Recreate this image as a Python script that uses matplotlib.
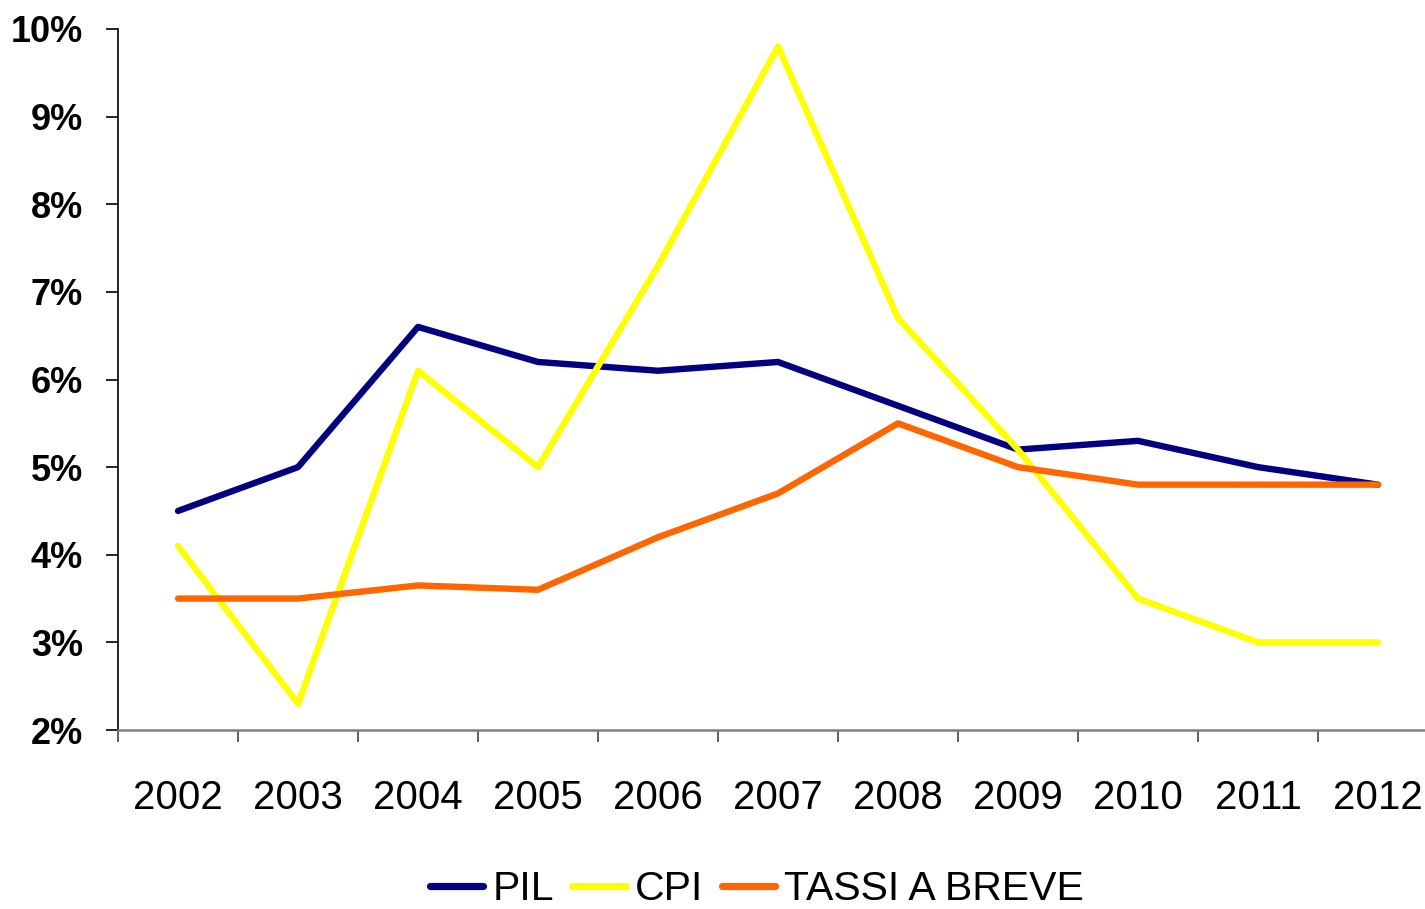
import matplotlib
matplotlib.use("Agg")
import matplotlib.pyplot as plt
from matplotlib.ticker import FixedLocator, FuncFormatter
import numpy as np

years = ["2002", "2003", "2004", "2005", "2006", "2007", "2008", "2009", "2010", "2011", "2012"]
pil = [4.5, 5.0, 6.6, 6.2, 6.1, 6.2, 5.7, 5.2, 5.3, 5.0, 4.8]
cpi = [4.1, 2.3, 6.1, 5.0, 7.3, 9.8, 6.7, 5.2, 3.5, 3.0, 3.0]
tassi = [3.5, 3.5, 3.65, 3.6, 4.2, 4.7, 5.5, 5.0, 4.8, 4.8, 4.8]
series_names = ["PIL", "CPI", "TASSI A BREVE"]
colors = ["#000080", "#FFFF00", "#FF6600"]
yticks = [2, 3, 4, 5, 6, 7, 8, 9, 10]

FONT = ["Liberation Sans", "DejaVu Sans"]

W, H = 1425, 909
fig = plt.figure(figsize=(W / 100, H / 100), dpi=100)
ax = fig.add_axes([118 / W, (H - 730) / H, 1320 / W, 701 / H])

x = np.arange(len(years))
for vals, name, c in zip([pil, cpi, tassi], series_names, colors):
    ax.plot(x, vals, color=c, lw=4.6, solid_capstyle="round", solid_joinstyle="round",
            label=name, clip_on=False)

ax.set_xlim(-0.5, len(years) - 0.5)
ax.set_ylim(2, 10)

for s in ["top", "right"]:
    ax.spines[s].set_visible(False)
ax.spines["left"].set_color("black")
ax.spines["left"].set_linewidth(1.2)
ax.spines["bottom"].set_color("#808080")
ax.spines["bottom"].set_linewidth(1.8)

ax.set_yticks(yticks)
ax.yaxis.set_major_formatter(FuncFormatter(lambda v, p: f"{int(round(v))}%"))
ax.tick_params(axis="y", which="major", direction="out", length=8.6, width=1.2,
               color="black", pad=16.5)
for lab in ax.get_yticklabels():
    lab.set_fontfamily(FONT)
    lab.set_fontweight("bold")
    lab.set_fontsize(26)

ax.set_xticks(x)
ax.set_xticklabels(years)
ax.xaxis.set_minor_locator(FixedLocator(np.arange(-0.5, len(years), 1.0)))
ax.tick_params(axis="x", which="major", length=0, pad=35)
ax.tick_params(axis="x", which="minor", direction="out", length=8.6, width=1.4, color="#606060")
for lab in ax.get_xticklabels():
    lab.set_fontfamily(FONT)
    lab.set_fontsize(29)

leg = fig.legend(loc="center", bbox_to_anchor=(757 / W, (H - 889) / H), ncol=3,
                 frameon=False, handlelength=1.3, handletextpad=0.23, columnspacing=0.45,
                 borderpad=0, prop={"family": FONT, "size": 29.5})
for line in leg.get_lines():
    line.set_linewidth(5.2)
    line.set_solid_capstyle("round")

fig.savefig("out.png", dpi=100)
